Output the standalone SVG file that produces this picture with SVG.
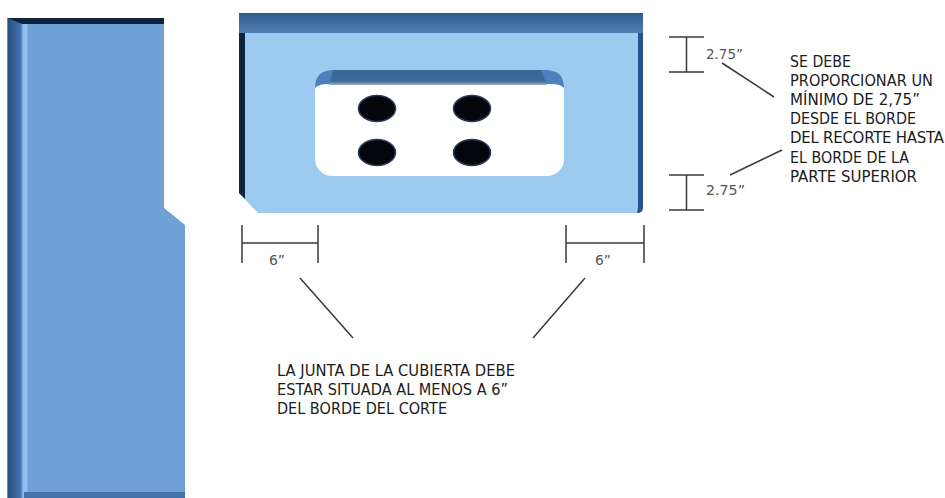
<svg xmlns="http://www.w3.org/2000/svg" width="945" height="498" viewBox="0 0 945 498">
<defs>
<style>
text{font-family:"DejaVu Sans",sans-serif;fill:#1c1c1c}
.lab{font-size:15px}
.dim{font-size:14px;fill:#555}
.ln{stroke:#3a3a3a;stroke-width:1.5;fill:none}
.hole{fill:#05060c;stroke:#2c3a5c;stroke-width:1.500}
</style>
<linearGradient id="lb" x1="0" x2="1" y1="0" y2="0"><stop offset="0" stop-color="#2a4f7c"/><stop offset=".8" stop-color="#3f70a8"/><stop offset="1" stop-color="#5b93cf"/></linearGradient>
<linearGradient id="tb" x1="0" x2="0" y1="0" y2="1"><stop offset="0" stop-color="#2f5a8c"/><stop offset="1" stop-color="#507fb4"/></linearGradient>
<linearGradient id="cb" x1="0" x2="0" y1="0" y2="1"><stop offset="0" stop-color="#3a6595"/><stop offset=".75" stop-color="#3f6a9c"/><stop offset="1" stop-color="#9db1c8"/></linearGradient>
</defs>
<rect width="945" height="498" fill="#fff"/>
<g id="left-counter">
<path d="M7.500 18H164V208L185 225V498H7.500Z" fill="#6fa0d6"/>
<rect x="7.500" y="18" width="15" height="480" fill="url(#lb)"/>
<rect x="22.500" y="24" width="5" height="474" fill="#8fc0ec"/>
<path d="M7.500 18H164V24H22Z" fill="#0f2340"/>
<rect x="24" y="492" width="161" height="6" fill="#4472ab"/>
</g>
<g id="right-counter">
<path d="M239 13H643V207Q643 213 637 213H258L239 193Z" fill="#9dcbef"/>
<path d="M239 22L245 33V199L239 193Z" fill="#10233f"/>
<path d="M643 30V207Q643 213 637 213Q638 210 638 205V30Z" fill="#24548c"/>
<path d="M239 13H643V33H239Z" fill="url(#tb)"/>
</g>
<g id="cutout">
<rect x="315" y="70" width="249" height="106" rx="17" fill="#fff"/>
<path d="M315 88Q315 70 333 70H546Q564 70 564 88Q560 84 552 84H327Q319 84 315 88Z" fill="#4e80bd"/>
<path d="M333 70H541L547 85H329Z" fill="url(#cb)"/>
</g>
<g id="holes">
<ellipse class="hole" cx="377" cy="108.500" rx="18.500" ry="13"/>
<ellipse class="hole" cx="472" cy="108.500" rx="18.500" ry="13"/>
<ellipse class="hole" cx="377" cy="152.500" rx="18.500" ry="13"/>
<ellipse class="hole" cx="472" cy="152.500" rx="18.500" ry="13"/>
</g>
<g id="connectors">
<path class="ln" d="M242 225V263M318 225V263M242 243H318"/>
<path class="ln" d="M566 225V263M644 225V263M566 243H644"/>
<path class="ln" d="M669 37H704M669 72H704M686.500 37V72"/>
<path class="ln" d="M669 175H704M669 210H704M686.500 175V210"/>
<path class="ln" d="M722 63L774 97M730 175L782 150"/>
<path class="ln" d="M300 278L353 338M585 278L533 338"/>
</g>
<g id="dim-labels">
<text class="dim" x="706" y="59" textLength="37" lengthAdjust="spacingAndGlyphs">2.75”</text>
<text class="dim" x="706" y="195" textLength="39" lengthAdjust="spacingAndGlyphs">2.75”</text>
<text class="dim" x="269" y="265" textLength="16" lengthAdjust="spacingAndGlyphs">6”</text>
<text class="dim" x="595" y="265" textLength="16" lengthAdjust="spacingAndGlyphs">6”</text>
</g>
<g id="note-right" class="lab">
<text x="790" y="67" textLength="61" lengthAdjust="spacingAndGlyphs">SE DEBE</text>
<text x="790" y="86" textLength="143" lengthAdjust="spacingAndGlyphs">PROPORCIONAR UN</text>
<text x="790" y="105" textLength="130" lengthAdjust="spacingAndGlyphs">MÍNIMO DE 2,75”</text>
<text x="790" y="124" textLength="126" lengthAdjust="spacingAndGlyphs">DESDE EL BORDE</text>
<text x="790" y="143" textLength="154">DEL RECORTE HASTA</text>
<text x="790" y="163" textLength="119" lengthAdjust="spacingAndGlyphs">EL BORDE DE LA</text>
<text x="790" y="182" textLength="127" lengthAdjust="spacingAndGlyphs">PARTE SUPERIOR</text>
</g>
<g id="note-bottom" class="lab">
<text x="277" y="376" textLength="238" lengthAdjust="spacingAndGlyphs">LA JUNTA DE LA CUBIERTA DEBE</text>
<text x="277" y="395" textLength="231" lengthAdjust="spacingAndGlyphs">ESTAR SITUADA AL MENOS A 6”</text>
<text x="277" y="414" textLength="170" lengthAdjust="spacingAndGlyphs">DEL BORDE DEL CORTE</text>
</g>
</svg>
